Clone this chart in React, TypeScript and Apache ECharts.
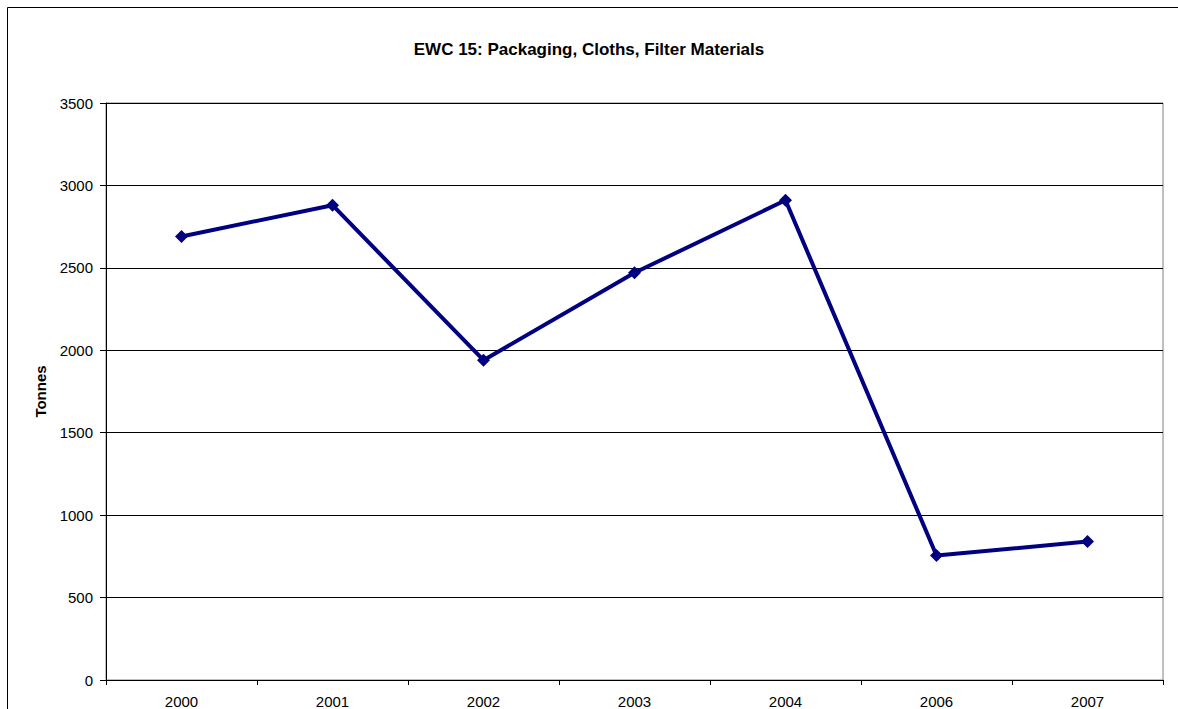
import React, { useEffect, useRef } from "react";
import * as echarts from "echarts";

const categories = ["2000", "2001", "2002", "2003", "2004", "2006", "2007"];
const tonnes = [2690, 2880, 1940, 2470, 2910, 755, 840];
const titleText = "EWC 15: Packaging, Cloths, Filter Materials";
const yAxisName = "Tonnes";

export default function App() {
  const ref = useRef<HTMLDivElement>(null);
  useEffect(() => {
    if (!ref.current) return;
    const chart = echarts.init(ref.current, null, { renderer: "svg" });
    const font = "Arial, 'Liberation Sans', Helvetica, sans-serif";
    chart.setOption({
      animation: false,
      backgroundColor: "#ffffff",
      textStyle: { fontFamily: font },
      title: {
        text: titleText,
        left: "center",
        top: 36,
        textStyle: { fontFamily: font, fontSize: 17, fontWeight: "bold", color: "#000" },
      },
      graphic: [
        {
          type: "rect",
          shape: { x: 1168, y: 9, width: 20, height: 710 },
          style: { fill: "#ffffff", stroke: "none" },
          silent: true,
          z: 99,
        },
        {
          type: "line",
          shape: { x1: 7.5, y1: 7.5, x2: 1178, y2: 7.5 },
          style: { stroke: "#000", lineWidth: 1 },
          silent: true,
          z: 100,
        },
        {
          type: "line",
          shape: { x1: 7.5, y1: 7.5, x2: 7.5, y2: 709 },
          style: { stroke: "#000", lineWidth: 1 },
          silent: true,
          z: 100,
        },
      ],
      grid: {
        left: 106,
        top: 103,
        right: 15,
        bottom: 28,
        show: true,
        borderColor: "#808080",
        borderWidth: 1,
        backgroundColor: "transparent",
      },
      xAxis: {
        type: "category",
        data: categories,
        boundaryGap: true,
        axisLine: { show: true, lineStyle: { color: "#000", width: 1 } },
        axisTick: { show: true, inside: false, length: 5, alignWithLabel: false, lineStyle: { color: "#000" } },
        axisLabel: { color: "#000", fontSize: 15, fontFamily: font, margin: 14 },
        splitLine: { show: false },
      },
      yAxis: {
        type: "value",
        min: 0,
        max: 3500,
        interval: 500,
        name: yAxisName,
        nameLocation: "middle",
        nameGap: 58,
        nameRotate: 90,
        nameTextStyle: { color: "#000", fontSize: 15, fontWeight: "bold", fontFamily: font },
        axisLine: { show: true, lineStyle: { color: "#000", width: 1 } },
        axisTick: { show: true, inside: false, length: 6, lineStyle: { color: "#000" } },
        axisLabel: {
          color: "#000",
          fontSize: 15,
          fontFamily: font,
          margin: 13,
          formatter: (v: number) => String(v),
        },
        splitLine: { show: true, lineStyle: { color: "#000", width: 1 } },
      },
      series: [
        {
          type: "line",
          data: tonnes,
          symbol: "diamond",
          symbolSize: 13,
          lineStyle: { color: "#000080", width: 4 },
          itemStyle: { color: "#000080" },
          z: 5,
        },
      ],
    });
    return () => chart.dispose();
  }, []);
  return (
    <div
      ref={ref}
      style={{ position: "fixed", left: 0, top: 0, width: 1178, height: 709 }}
    />
  );
}
